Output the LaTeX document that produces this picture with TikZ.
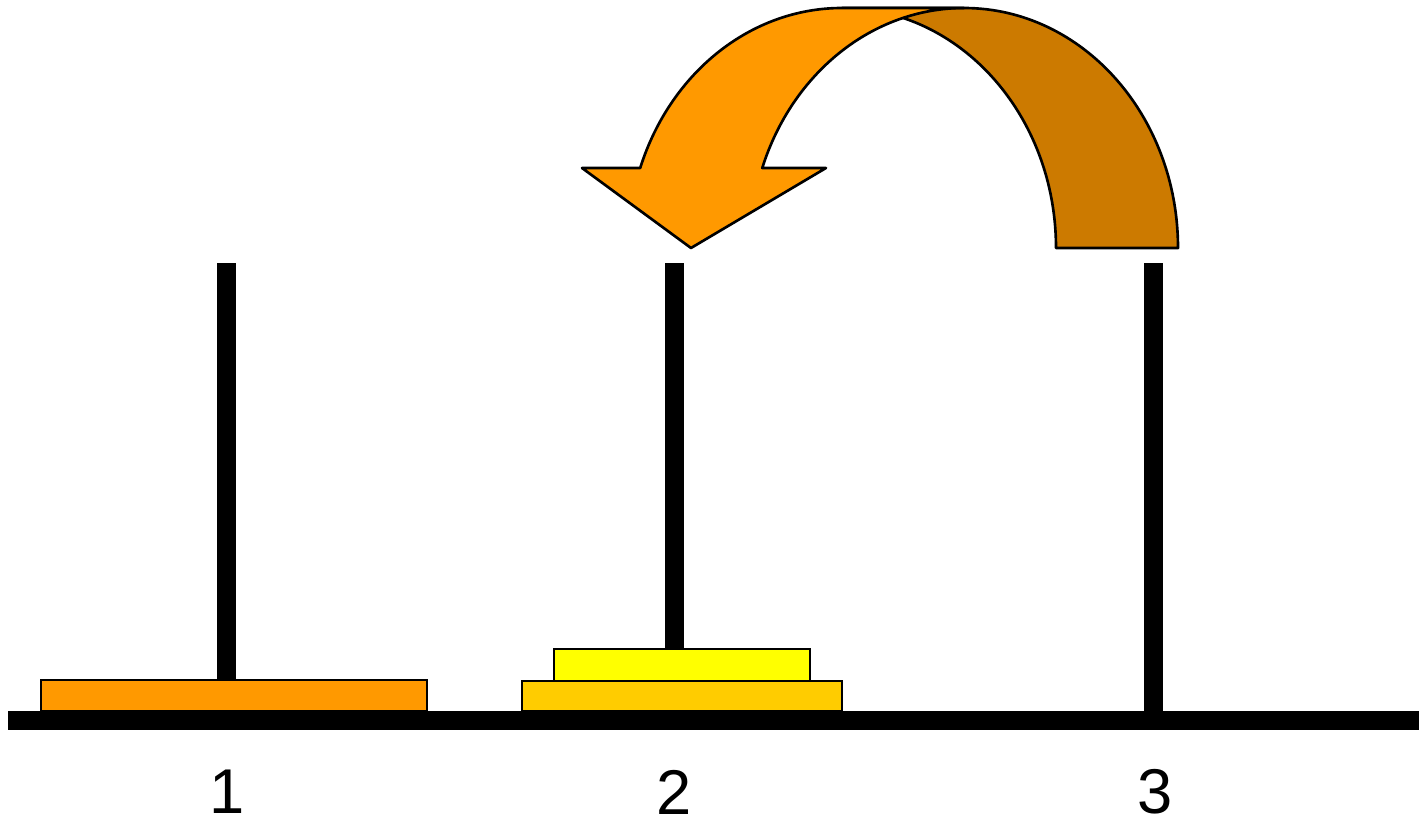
\documentclass[tikz,border=0pt]{standalone}
\usepackage{fontspec}
\setmainfont{Liberation Sans}
\definecolor{diskorange}{HTML}{FF9900}
\definecolor{diskgold}{HTML}{FFCC00}
\definecolor{diskyellow}{HTML}{FFFF00}
\definecolor{arrowback}{HTML}{CC7A00}

\begin{document}
\begin{tikzpicture}[disk/.style={draw=black, line width=0.6pt},
    arrowface/.style={draw=black, line width=0.75pt, line join=round},
    pegnum/.style={font=\fontsize{18}{20}\selectfont, inner sep=0pt}]
    \useasboundingbox (0,0) rectangle (14.25,8.19);

    % Base plate
    \fill (0.08,0.89) rectangle (14.19,1.08);

    % Pegs
    \fill (2.167,1.08) rectangle (2.357,5.56);
    \fill (6.645,1.70) rectangle (6.835,5.56);
    \fill (11.443,1.08) rectangle (11.633,5.56);

    % Disks
    \filldraw[disk, fill=diskorange] (0.41,1.08) rectangle (4.27,1.39);
    \filldraw[disk, fill=diskgold] (5.22,1.08) rectangle (8.42,1.38);
    \filldraw[disk, fill=diskyellow] (5.54,1.38) rectangle (8.10,1.70);

    % Peg numbers
    \node[pegnum] (num1) at (2.27,0.27) {1};
    \node[pegnum] (num2) at (6.74,0.27) {2};
    \node[pegnum] (num3) at (11.55,0.27) {3};

    % Curved arrow: back face (two equal ellipses, shifted)
    \filldraw[arrowface, fill=arrowback] (8.42,8.11) -- (9.64,8.11)
        arc[start angle=90, end angle=0, x radius=2.14, y radius=2.4] -- (10.56,5.71)
        arc[start angle=0, end angle=90, x radius=2.14, y radius=2.4] -- cycle;

    % Curved arrow: front face with head
    \filldraw[arrowface, fill=diskorange] (5.82,6.51) -- (6.402,6.51)
        arc[start angle=160.53, end angle=90, x radius=2.14, y radius=2.4] -- (9.64,8.11)
        arc[start angle=90, end angle=160.53, x radius=2.14, y radius=2.4]
        -- (8.26,6.51) -- (6.91,5.71) -- cycle;
\end{tikzpicture}
\end{document}
